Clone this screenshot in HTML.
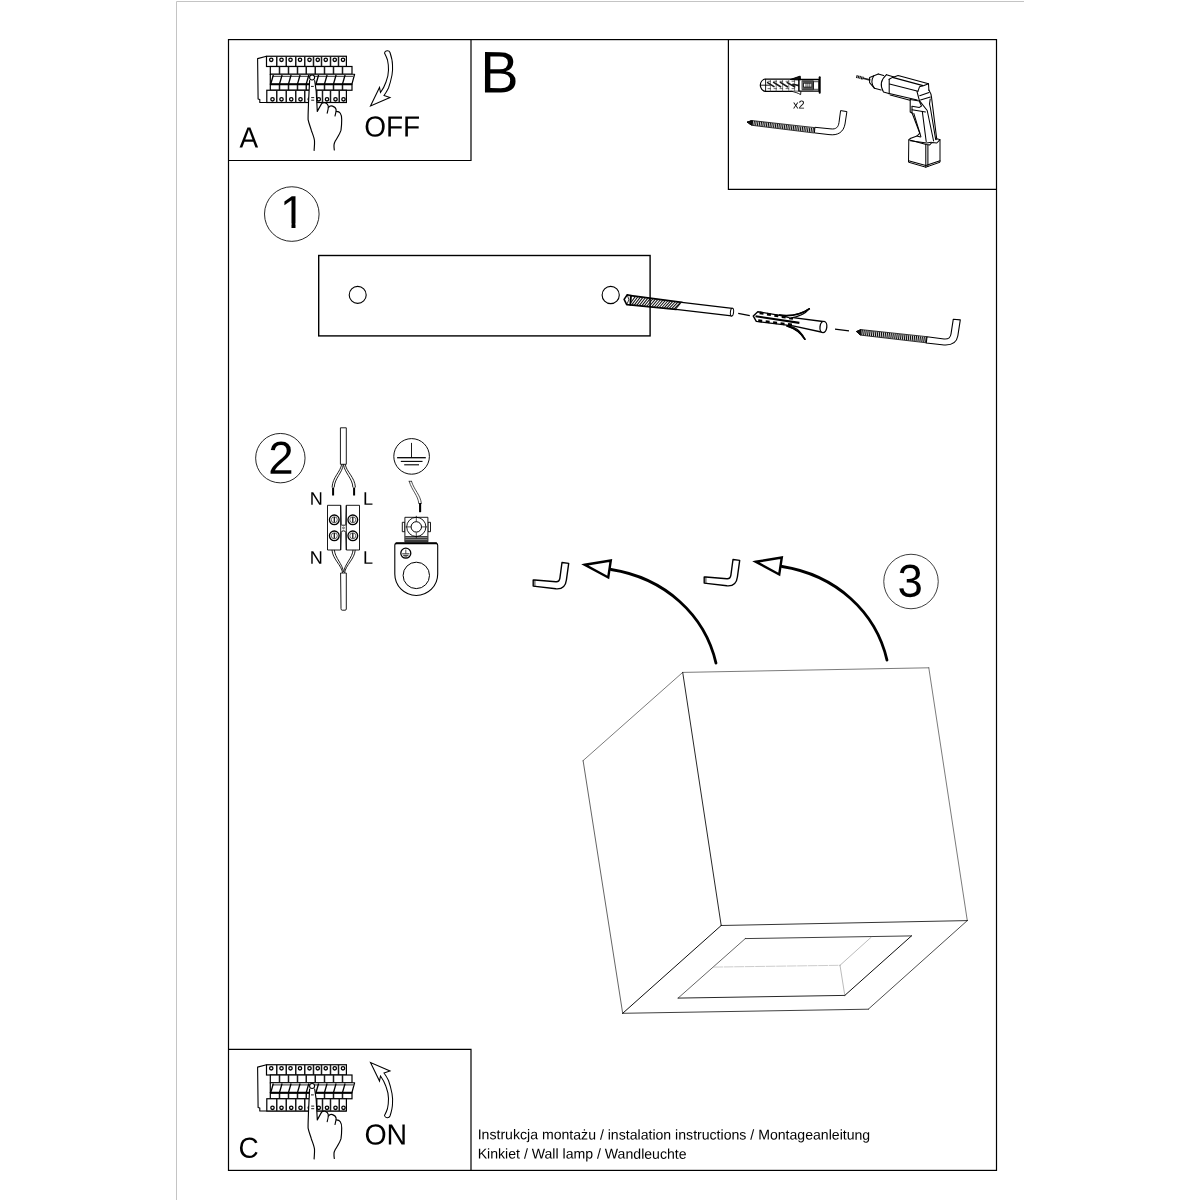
<!DOCTYPE html>
<html lang="pl">
<head>
<meta charset="utf-8">
<title>Instrukcja montażu</title>
<style>
html,body{margin:0;padding:0;background:#fff;}
body{width:1200px;height:1200px;overflow:hidden;}
svg{display:block;position:absolute;left:0;top:0;will-change:transform;}
text{font-family:"Liberation Sans",sans-serif;fill:#000;}
</style>
</head>
<body>
<svg width="1200" height="1200" viewBox="0 0 1200 1200">
<rect x="0" y="0" width="1200" height="1200" fill="#fff"/>

<path d="M176.5,1200 L176.5,1.5 L1024,1.5" fill="none" stroke="#c4c4c4" stroke-width="1"/>
<g fill="none" stroke="#000" stroke-width="1.2">
<rect x="228.5" y="39.6" width="768" height="1130.8"/>
<path d="M228.5,160.5 L471,160.5 L471,39.6"/>
<path d="M228.5,1049.3 L471,1049.3 L471,1170.4"/>
<path d="M728.4,39.6 L728.4,189.3 L996.5,189.3"/>
</g>
<g id="panelA">
<path d="M266.5,56.25 L257.6,58.6 L258.1,98.9 L259.8,99.6 L259.8,102.5 L346.5,102.5" fill="#fff" stroke="#000" stroke-width="1.1" stroke-linejoin="round"/>
<rect x="266.5" y="56.25" width="79.9" height="10.25" fill="#fff" stroke="#000" stroke-width="1.2"/>
<line x1="276.75" y1="56.5" x2="276.75" y2="66.5" stroke="#1a1a1a" stroke-width="1.5"/>
<line x1="286.25" y1="56.5" x2="286.25" y2="66.5" stroke="#1a1a1a" stroke-width="1.5"/>
<line x1="295.75" y1="56.5" x2="295.75" y2="66.5" stroke="#1a1a1a" stroke-width="1.5"/>
<line x1="304.75" y1="56.5" x2="304.75" y2="66.5" stroke="#1a1a1a" stroke-width="1.5"/>
<line x1="313.5" y1="56.5" x2="313.5" y2="66.5" stroke="#1a1a1a" stroke-width="1.5"/>
<line x1="321.5" y1="56.5" x2="321.5" y2="66.5" stroke="#1a1a1a" stroke-width="1.5"/>
<line x1="330.5" y1="56.5" x2="330.5" y2="66.5" stroke="#1a1a1a" stroke-width="1.5"/>
<line x1="338.5" y1="56.5" x2="338.5" y2="66.5" stroke="#1a1a1a" stroke-width="1.5"/>
<circle cx="271.25" cy="59.8" r="1.7" fill="#fff" stroke="#000" stroke-width="1.3"/>
<circle cx="281.5" cy="59.8" r="1.7" fill="#fff" stroke="#000" stroke-width="1.3"/>
<circle cx="290.5" cy="59.8" r="1.7" fill="#fff" stroke="#000" stroke-width="1.3"/>
<circle cx="300" cy="59.8" r="1.7" fill="#fff" stroke="#000" stroke-width="1.3"/>
<circle cx="309.5" cy="59.8" r="1.7" fill="#fff" stroke="#000" stroke-width="1.3"/>
<circle cx="317.75" cy="59.8" r="1.7" fill="#fff" stroke="#000" stroke-width="1.3"/>
<circle cx="325.75" cy="59.8" r="1.7" fill="#fff" stroke="#000" stroke-width="1.3"/>
<circle cx="334.75" cy="59.8" r="1.7" fill="#fff" stroke="#000" stroke-width="1.3"/>
<circle cx="343" cy="59.8" r="1.7" fill="#fff" stroke="#000" stroke-width="1.3"/>
<rect x="270.3" y="66.5" width="81.7" height="7.75" fill="#fff" stroke="#000" stroke-width="1.2"/>
<line x1="279.5" y1="66.5" x2="279.5" y2="74.2" stroke="#1a1a1a" stroke-width="1.5"/>
<line x1="288.5" y1="66.5" x2="288.5" y2="74.2" stroke="#1a1a1a" stroke-width="1.5"/>
<line x1="297.5" y1="66.5" x2="297.5" y2="74.2" stroke="#1a1a1a" stroke-width="1.5"/>
<line x1="306.25" y1="66.5" x2="306.25" y2="74.2" stroke="#1a1a1a" stroke-width="1.5"/>
<line x1="315.25" y1="66.5" x2="315.25" y2="74.2" stroke="#1a1a1a" stroke-width="1.5"/>
<line x1="324.5" y1="66.5" x2="324.5" y2="74.2" stroke="#1a1a1a" stroke-width="1.5"/>
<line x1="333.5" y1="66.5" x2="333.5" y2="74.2" stroke="#1a1a1a" stroke-width="1.5"/>
<line x1="342.5" y1="66.5" x2="342.5" y2="74.2" stroke="#1a1a1a" stroke-width="1.5"/>
<rect x="270.3" y="84.25" width="81.7" height="6" fill="#fff" stroke="#000" stroke-width="1.2"/>
<line x1="279.5" y1="84.3" x2="279.5" y2="90.2" stroke="#1a1a1a" stroke-width="1.5"/>
<line x1="288.5" y1="84.3" x2="288.5" y2="90.2" stroke="#1a1a1a" stroke-width="1.5"/>
<line x1="297.5" y1="84.3" x2="297.5" y2="90.2" stroke="#1a1a1a" stroke-width="1.5"/>
<line x1="306.25" y1="84.3" x2="306.25" y2="90.2" stroke="#1a1a1a" stroke-width="1.5"/>
<line x1="315.25" y1="84.3" x2="315.25" y2="90.2" stroke="#1a1a1a" stroke-width="1.5"/>
<line x1="324.5" y1="84.3" x2="324.5" y2="90.2" stroke="#1a1a1a" stroke-width="1.5"/>
<line x1="333.5" y1="84.3" x2="333.5" y2="90.2" stroke="#1a1a1a" stroke-width="1.5"/>
<line x1="342.5" y1="84.3" x2="342.5" y2="90.2" stroke="#1a1a1a" stroke-width="1.5"/>
<rect x="266.8" y="90.25" width="79.6" height="12.25" fill="#fff" stroke="#000" stroke-width="1.2"/>
<line x1="276.75" y1="90.3" x2="276.75" y2="102.4" stroke="#1a1a1a" stroke-width="1.5"/>
<line x1="286.25" y1="90.3" x2="286.25" y2="102.4" stroke="#1a1a1a" stroke-width="1.5"/>
<line x1="295.75" y1="90.3" x2="295.75" y2="102.4" stroke="#1a1a1a" stroke-width="1.5"/>
<line x1="304.75" y1="90.3" x2="304.75" y2="102.4" stroke="#1a1a1a" stroke-width="1.5"/>
<line x1="316.75" y1="90.3" x2="316.75" y2="102.4" stroke="#1a1a1a" stroke-width="1.5"/>
<line x1="322.5" y1="90.3" x2="322.5" y2="102.4" stroke="#1a1a1a" stroke-width="1.5"/>
<line x1="330.5" y1="90.3" x2="330.5" y2="102.4" stroke="#1a1a1a" stroke-width="1.5"/>
<line x1="339.25" y1="90.3" x2="339.25" y2="102.4" stroke="#1a1a1a" stroke-width="1.5"/>
<circle cx="272.5" cy="99.3" r="1.7" fill="#fff" stroke="#000" stroke-width="1.3"/>
<circle cx="281.5" cy="99.3" r="1.7" fill="#fff" stroke="#000" stroke-width="1.3"/>
<circle cx="291.25" cy="99.3" r="1.7" fill="#fff" stroke="#000" stroke-width="1.3"/>
<circle cx="300.5" cy="99.3" r="1.7" fill="#fff" stroke="#000" stroke-width="1.3"/>
<circle cx="309.8" cy="99.3" r="1.7" fill="#fff" stroke="#000" stroke-width="1.3"/>
<circle cx="318.75" cy="99.3" r="1.7" fill="#fff" stroke="#000" stroke-width="1.3"/>
<circle cx="327" cy="99.3" r="1.7" fill="#fff" stroke="#000" stroke-width="1.3"/>
<circle cx="335.5" cy="99.3" r="1.7" fill="#fff" stroke="#000" stroke-width="1.3"/>
<circle cx="343.5" cy="99.3" r="1.7" fill="#fff" stroke="#000" stroke-width="1.3"/>
<path d="M270.3,74.25 L354.6,74.25 L351.9,84.25 L270.3,84.25 Z" fill="#fff" stroke="#000" stroke-width="1.2" stroke-linejoin="round"/>
<line x1="272.3" y1="76.3" x2="354" y2="76.3" stroke="#555" stroke-width="1.3"/>
<line x1="270.3" y1="84.2" x2="352" y2="84.2" stroke="#000" stroke-width="1.9"/>
<line x1="270.75" y1="84" x2="273.35" y2="75" stroke="#000" stroke-width="1.3"/>
<line x1="279.5" y1="84" x2="282.1" y2="75" stroke="#000" stroke-width="1.3"/>
<line x1="288.5" y1="84" x2="291.1" y2="75" stroke="#000" stroke-width="1.3"/>
<line x1="297.5" y1="84" x2="300.1" y2="75" stroke="#000" stroke-width="1.3"/>
<line x1="306.25" y1="84" x2="308.85" y2="75" stroke="#000" stroke-width="1.3"/>
<line x1="316" y1="84" x2="318.6" y2="75" stroke="#000" stroke-width="1.3"/>
<line x1="324.5" y1="84" x2="327.1" y2="75" stroke="#000" stroke-width="1.3"/>
<line x1="333.5" y1="84" x2="336.1" y2="75" stroke="#000" stroke-width="1.3"/>
<line x1="342.5" y1="84" x2="345.1" y2="75" stroke="#000" stroke-width="1.3"/>
<path d="M309.5,79.5 L308.5,103.3 C308.3,110 308,115 308.1,119.6 C309,124 310.5,127 311.3,130.2 C313,135 314.3,138 314.5,140.8 C314.7,144 314.3,147 314.1,150.4 L334.3,150 C334.1,148.5 333.9,147 334,145 C334,143.5 334.5,142.5 335.4,140.8 C337,138 340,134 341,130.2 C341.5,127 341.7,123 341.7,119.6 C341.8,117 341.5,115 340.3,113.2 C339.5,112 338,111.5 336.4,111.4 L336.1,109.7 C335.8,108 334.5,106.8 332.5,106.1 C331,105.6 329.5,106 328.6,107.5 L328.3,106.1 C328,104.8 327,103.5 325.5,102.9 C324.5,102.5 323,102.5 321.6,103.6 L317.3,111.4 L316.2,91.2 L314.8,79.5 Z" fill="#fff" stroke="none"/>
<path d="M309.6,80.6 L308.5,103.3 C308.3,110 308,115 308.1,119.6 C309,124 310.5,127 311.3,130.2 C313,135 314.3,138 314.5,140.8 C314.7,144 314.3,147 314.1,150.4" fill="none" stroke="#000" stroke-width="1.15" stroke-linecap="round" stroke-linejoin="round"/>
<path d="M314.7,80.6 L316.2,91.2 L317.3,111.4 L321.6,103.6 C323,102.5 324.5,102.5 325.5,102.9 C327,103.5 328,104.8 328.3,106.1 C328.5,108 327.8,111 327.2,113.2" fill="none" stroke="#000" stroke-width="1.15" stroke-linecap="round" stroke-linejoin="round"/>
<path d="M328.6,107.5 C329.5,106 331,105.6 332.5,106.1 C334.5,106.8 335.8,108 336.1,109.7 C336.3,111.5 335.5,114 335,116" fill="none" stroke="#000" stroke-width="1.15" stroke-linecap="round" stroke-linejoin="round"/>
<path d="M336.4,111.4 C338,111.5 339.5,112 340.3,113.2 C341.5,115 341.8,117 341.7,119.6 C341.7,123 341.5,127 341,130.2 C340,134 337,138 335.4,140.8 C334.5,142.5 334,143.5 334,145 C333.9,147 334.1,148.5 334.3,150" fill="none" stroke="#000" stroke-width="1.15" stroke-linecap="round" stroke-linejoin="round"/>
<circle cx="312.1" cy="77.5" r="2.5" fill="#fff" stroke="#000" stroke-width="1.1"/>
<path d="M311,86.4 L313.8,86.4 M311.2,97.6 L314.2,97.6 M311.2,100.2 L314.2,100.2" fill="none" stroke="#000" stroke-width="0.9"/>
<path d="M384.5,53 C385,50.3 389,50 390,52.5 C391.5,57 392.5,61 392.5,65 C392.8,69 392.5,72 392,75 C391,80 390,84 388.5,88 C387,91 385.5,93.5 384,95.5 L390,97.5 L370.5,106 L379.5,87.5 L380.5,92.5 C383,89 385,85 386,82 C387.5,78 388.5,74 388.5,70 C388.5,66 388.2,63 387.5,60 C386.8,57.5 385.5,55 384.5,53 Z" fill="#fff" stroke="#000" stroke-width="1.05" stroke-linejoin="miter"/>
<text transform="translate(239.5 147.5) rotate(0.05) scale(1 1.04)" font-size="28">A</text>
<text transform="translate(364.2 136.5) rotate(0.05) scale(1 1.04)" font-size="28">OFF</text>
</g>
<text transform="translate(480.2 92.5) rotate(0.05) scale(1 1.021)" font-size="57.5">B</text>
<g id="panelC">
<g transform="translate(0,1008.5)">
<path d="M266.5,56.25 L257.6,58.6 L258.1,98.9 L259.8,99.6 L259.8,102.5 L346.5,102.5" fill="#fff" stroke="#000" stroke-width="1.1" stroke-linejoin="round"/>
<rect x="266.5" y="56.25" width="79.9" height="10.25" fill="#fff" stroke="#000" stroke-width="1.2"/>
<line x1="276.75" y1="56.5" x2="276.75" y2="66.5" stroke="#1a1a1a" stroke-width="1.5"/>
<line x1="286.25" y1="56.5" x2="286.25" y2="66.5" stroke="#1a1a1a" stroke-width="1.5"/>
<line x1="295.75" y1="56.5" x2="295.75" y2="66.5" stroke="#1a1a1a" stroke-width="1.5"/>
<line x1="304.75" y1="56.5" x2="304.75" y2="66.5" stroke="#1a1a1a" stroke-width="1.5"/>
<line x1="313.5" y1="56.5" x2="313.5" y2="66.5" stroke="#1a1a1a" stroke-width="1.5"/>
<line x1="321.5" y1="56.5" x2="321.5" y2="66.5" stroke="#1a1a1a" stroke-width="1.5"/>
<line x1="330.5" y1="56.5" x2="330.5" y2="66.5" stroke="#1a1a1a" stroke-width="1.5"/>
<line x1="338.5" y1="56.5" x2="338.5" y2="66.5" stroke="#1a1a1a" stroke-width="1.5"/>
<circle cx="271.25" cy="59.8" r="1.7" fill="#fff" stroke="#000" stroke-width="1.3"/>
<circle cx="281.5" cy="59.8" r="1.7" fill="#fff" stroke="#000" stroke-width="1.3"/>
<circle cx="290.5" cy="59.8" r="1.7" fill="#fff" stroke="#000" stroke-width="1.3"/>
<circle cx="300" cy="59.8" r="1.7" fill="#fff" stroke="#000" stroke-width="1.3"/>
<circle cx="309.5" cy="59.8" r="1.7" fill="#fff" stroke="#000" stroke-width="1.3"/>
<circle cx="317.75" cy="59.8" r="1.7" fill="#fff" stroke="#000" stroke-width="1.3"/>
<circle cx="325.75" cy="59.8" r="1.7" fill="#fff" stroke="#000" stroke-width="1.3"/>
<circle cx="334.75" cy="59.8" r="1.7" fill="#fff" stroke="#000" stroke-width="1.3"/>
<circle cx="343" cy="59.8" r="1.7" fill="#fff" stroke="#000" stroke-width="1.3"/>
<rect x="270.3" y="66.5" width="81.7" height="7.75" fill="#fff" stroke="#000" stroke-width="1.2"/>
<line x1="279.5" y1="66.5" x2="279.5" y2="74.2" stroke="#1a1a1a" stroke-width="1.5"/>
<line x1="288.5" y1="66.5" x2="288.5" y2="74.2" stroke="#1a1a1a" stroke-width="1.5"/>
<line x1="297.5" y1="66.5" x2="297.5" y2="74.2" stroke="#1a1a1a" stroke-width="1.5"/>
<line x1="306.25" y1="66.5" x2="306.25" y2="74.2" stroke="#1a1a1a" stroke-width="1.5"/>
<line x1="315.25" y1="66.5" x2="315.25" y2="74.2" stroke="#1a1a1a" stroke-width="1.5"/>
<line x1="324.5" y1="66.5" x2="324.5" y2="74.2" stroke="#1a1a1a" stroke-width="1.5"/>
<line x1="333.5" y1="66.5" x2="333.5" y2="74.2" stroke="#1a1a1a" stroke-width="1.5"/>
<line x1="342.5" y1="66.5" x2="342.5" y2="74.2" stroke="#1a1a1a" stroke-width="1.5"/>
<rect x="270.3" y="84.25" width="81.7" height="6" fill="#fff" stroke="#000" stroke-width="1.2"/>
<line x1="279.5" y1="84.3" x2="279.5" y2="90.2" stroke="#1a1a1a" stroke-width="1.5"/>
<line x1="288.5" y1="84.3" x2="288.5" y2="90.2" stroke="#1a1a1a" stroke-width="1.5"/>
<line x1="297.5" y1="84.3" x2="297.5" y2="90.2" stroke="#1a1a1a" stroke-width="1.5"/>
<line x1="306.25" y1="84.3" x2="306.25" y2="90.2" stroke="#1a1a1a" stroke-width="1.5"/>
<line x1="315.25" y1="84.3" x2="315.25" y2="90.2" stroke="#1a1a1a" stroke-width="1.5"/>
<line x1="324.5" y1="84.3" x2="324.5" y2="90.2" stroke="#1a1a1a" stroke-width="1.5"/>
<line x1="333.5" y1="84.3" x2="333.5" y2="90.2" stroke="#1a1a1a" stroke-width="1.5"/>
<line x1="342.5" y1="84.3" x2="342.5" y2="90.2" stroke="#1a1a1a" stroke-width="1.5"/>
<rect x="266.8" y="90.25" width="79.6" height="12.25" fill="#fff" stroke="#000" stroke-width="1.2"/>
<line x1="276.75" y1="90.3" x2="276.75" y2="102.4" stroke="#1a1a1a" stroke-width="1.5"/>
<line x1="286.25" y1="90.3" x2="286.25" y2="102.4" stroke="#1a1a1a" stroke-width="1.5"/>
<line x1="295.75" y1="90.3" x2="295.75" y2="102.4" stroke="#1a1a1a" stroke-width="1.5"/>
<line x1="304.75" y1="90.3" x2="304.75" y2="102.4" stroke="#1a1a1a" stroke-width="1.5"/>
<line x1="316.75" y1="90.3" x2="316.75" y2="102.4" stroke="#1a1a1a" stroke-width="1.5"/>
<line x1="322.5" y1="90.3" x2="322.5" y2="102.4" stroke="#1a1a1a" stroke-width="1.5"/>
<line x1="330.5" y1="90.3" x2="330.5" y2="102.4" stroke="#1a1a1a" stroke-width="1.5"/>
<line x1="339.25" y1="90.3" x2="339.25" y2="102.4" stroke="#1a1a1a" stroke-width="1.5"/>
<circle cx="272.5" cy="99.3" r="1.7" fill="#fff" stroke="#000" stroke-width="1.3"/>
<circle cx="281.5" cy="99.3" r="1.7" fill="#fff" stroke="#000" stroke-width="1.3"/>
<circle cx="291.25" cy="99.3" r="1.7" fill="#fff" stroke="#000" stroke-width="1.3"/>
<circle cx="300.5" cy="99.3" r="1.7" fill="#fff" stroke="#000" stroke-width="1.3"/>
<circle cx="309.8" cy="99.3" r="1.7" fill="#fff" stroke="#000" stroke-width="1.3"/>
<circle cx="318.75" cy="99.3" r="1.7" fill="#fff" stroke="#000" stroke-width="1.3"/>
<circle cx="327" cy="99.3" r="1.7" fill="#fff" stroke="#000" stroke-width="1.3"/>
<circle cx="335.5" cy="99.3" r="1.7" fill="#fff" stroke="#000" stroke-width="1.3"/>
<circle cx="343.5" cy="99.3" r="1.7" fill="#fff" stroke="#000" stroke-width="1.3"/>
<path d="M270.3,74.25 L354.6,74.25 L351.9,84.25 L270.3,84.25 Z" fill="#fff" stroke="#000" stroke-width="1.2" stroke-linejoin="round"/>
<line x1="272.3" y1="76.3" x2="354" y2="76.3" stroke="#555" stroke-width="1.3"/>
<line x1="270.3" y1="84.2" x2="352" y2="84.2" stroke="#000" stroke-width="1.9"/>
<line x1="270.75" y1="84" x2="273.35" y2="75" stroke="#000" stroke-width="1.3"/>
<line x1="279.5" y1="84" x2="282.1" y2="75" stroke="#000" stroke-width="1.3"/>
<line x1="288.5" y1="84" x2="291.1" y2="75" stroke="#000" stroke-width="1.3"/>
<line x1="297.5" y1="84" x2="300.1" y2="75" stroke="#000" stroke-width="1.3"/>
<line x1="306.25" y1="84" x2="308.85" y2="75" stroke="#000" stroke-width="1.3"/>
<line x1="316" y1="84" x2="318.6" y2="75" stroke="#000" stroke-width="1.3"/>
<line x1="324.5" y1="84" x2="327.1" y2="75" stroke="#000" stroke-width="1.3"/>
<line x1="333.5" y1="84" x2="336.1" y2="75" stroke="#000" stroke-width="1.3"/>
<line x1="342.5" y1="84" x2="345.1" y2="75" stroke="#000" stroke-width="1.3"/>
<path d="M309.5,79.5 L308.5,103.3 C308.3,110 308,115 308.1,119.6 C309,124 310.5,127 311.3,130.2 C313,135 314.3,138 314.5,140.8 C314.7,144 314.3,147 314.1,150.4 L334.3,150 C334.1,148.5 333.9,147 334,145 C334,143.5 334.5,142.5 335.4,140.8 C337,138 340,134 341,130.2 C341.5,127 341.7,123 341.7,119.6 C341.8,117 341.5,115 340.3,113.2 C339.5,112 338,111.5 336.4,111.4 L336.1,109.7 C335.8,108 334.5,106.8 332.5,106.1 C331,105.6 329.5,106 328.6,107.5 L328.3,106.1 C328,104.8 327,103.5 325.5,102.9 C324.5,102.5 323,102.5 321.6,103.6 L317.3,111.4 L316.2,91.2 L314.8,79.5 Z" fill="#fff" stroke="none"/>
<path d="M309.6,80.6 L308.5,103.3 C308.3,110 308,115 308.1,119.6 C309,124 310.5,127 311.3,130.2 C313,135 314.3,138 314.5,140.8 C314.7,144 314.3,147 314.1,150.4" fill="none" stroke="#000" stroke-width="1.15" stroke-linecap="round" stroke-linejoin="round"/>
<path d="M314.7,80.6 L316.2,91.2 L317.3,111.4 L321.6,103.6 C323,102.5 324.5,102.5 325.5,102.9 C327,103.5 328,104.8 328.3,106.1 C328.5,108 327.8,111 327.2,113.2" fill="none" stroke="#000" stroke-width="1.15" stroke-linecap="round" stroke-linejoin="round"/>
<path d="M328.6,107.5 C329.5,106 331,105.6 332.5,106.1 C334.5,106.8 335.8,108 336.1,109.7 C336.3,111.5 335.5,114 335,116" fill="none" stroke="#000" stroke-width="1.15" stroke-linecap="round" stroke-linejoin="round"/>
<path d="M336.4,111.4 C338,111.5 339.5,112 340.3,113.2 C341.5,115 341.8,117 341.7,119.6 C341.7,123 341.5,127 341,130.2 C340,134 337,138 335.4,140.8 C334.5,142.5 334,143.5 334,145 C333.9,147 334.1,148.5 334.3,150" fill="none" stroke="#000" stroke-width="1.15" stroke-linecap="round" stroke-linejoin="round"/>
<circle cx="312.1" cy="77.5" r="2.5" fill="#fff" stroke="#000" stroke-width="1.1"/>
<path d="M311,86.4 L313.8,86.4 M311.2,97.6 L314.2,97.6 M311.2,100.2 L314.2,100.2" fill="none" stroke="#000" stroke-width="0.9"/>
</g>
<path d="M384.5,53 C385,50.3 389,50 390,52.5 C391.5,57 392.5,61 392.5,65 C392.8,69 392.5,72 392,75 C391,80 390,84 388.5,88 C387,91 385.5,93.5 384,95.5 L390,97.5 L370.5,106 L379.5,87.5 L380.5,92.5 C383,89 385,85 386,82 C387.5,78 388.5,74 388.5,70 C388.5,66 388.2,63 387.5,60 C386.8,57.5 385.5,55 384.5,53 Z" fill="#fff" stroke="#000" stroke-width="1.05" transform="translate(0,1168.5) scale(1,-1)"/>
<text transform="translate(238.4 1157.7) rotate(0.05) scale(1 1.04)" font-size="28">C</text>
<text transform="translate(364.4 1144.5) rotate(0.05) scale(1 1.022)" font-size="28.5">ON</text>
</g>
<g id="tools">
<!-- wall plug -->
<g stroke-linejoin="round" stroke-linecap="round">
<path d="M765,79 C762.3,79.6 760.3,82.4 760.3,85.2 C760.3,88 762.3,90.8 765,91.3 L799,91.3 L799,79.2 Z" fill="#fff" stroke="#000" stroke-width="1.2"/>
<path d="M760.5,85.2 L770,85.2 M765.6,79.3 L765.6,91.1" fill="none" stroke="#000" stroke-width="0.9"/>
<path d="M770.4,79.4 L770.4,91 M776.2,79.4 L776.2,91 M782.6,79.4 L782.6,91 M788.8,79.4 L788.8,91 M794.6,79.4 L794.6,91" fill="none" stroke="#444" stroke-width="0.7"/>
<path d="M767.6,82.6 L774,86.6 M773.6,82.4 L780.6,86.8 M780.4,82.4 L787.4,86.8 M787.2,82.6 L794.6,86.8 M793,84.2 L799,85.6" fill="none" stroke="#1a1a1a" stroke-width="1.6"/>
<path d="M768,88.6 L798,88.6 M768,81.3 L798,81.3" fill="none" stroke="#333" stroke-width="0.7" stroke-dasharray="2.6 3.4"/>
<path d="M790.6,79.4 L800.2,76.1 L800.4,79.6 Z" fill="#111" stroke="#000" stroke-width="1"/>
<path d="M791,91.2 C795,92 798,93 800.6,94.6 L800.9,91.5" fill="#fff" stroke="#000" stroke-width="0.9"/>
<rect x="799" y="79.5" width="20.3" height="11.6" fill="#fff" stroke="#000" stroke-width="1.3"/>
<rect x="802.4" y="80.8" width="11" height="9" fill="#555" stroke="#222" stroke-width="0.8"/>
<path d="M818.6,81.7 L819.4,79.8 M818.6,89.3 L819.4,91" stroke="#000" stroke-width="0.6" fill="none"/>
<rect x="803.9" y="83.3" width="7.8" height="3.7" fill="#fff" stroke="#000" stroke-width="0.6"/>
<path d="M806,83.6 L806,86.8 M807.9,83.6 L807.9,86.8 M809.8,83.6 L809.8,86.8" stroke="#000" stroke-width="0.7" fill="none"/>
<rect x="813.9" y="81.7" width="4.7" height="7.6" fill="#fff" stroke="#000" stroke-width="0.7"/>
<line x1="819.7" y1="77.3" x2="819.7" y2="92.8" stroke="#000" stroke-width="2"/>
</g>
<text transform="translate(793.1 108.5) rotate(0.05) scale(1 1.04)" font-size="11">x2</text>
<!-- screw hook -->
<g stroke-linejoin="round">
<path d="M747,122.1 L752.2,120.6 L814.6,127.6 L814.2,133 L752,125.3 Z" fill="#fff" stroke="#000" stroke-width="0.8"/>
<line x1="750" y1="122.6" x2="814.4" y2="130.4" stroke="#111" stroke-width="4.6" stroke-dasharray="1.1 0.7"/>
<path d="M747,122.1 L752.2,120.6 L752,125.3 Z" fill="#111" stroke="#000" stroke-width="0.8"/>
<path d="M814.4,132.9 L829,134.6 C838,135.8 843.6,132 845,124 L846.9,111.6 L840.6,110.6 L839,122.5 C838.3,127.4 836,129.4 831,128.9 L814.9,127.3 Z" fill="#fff" stroke="#000" stroke-width="1"/>
</g>
<!-- drill -->
<g fill="none" stroke="#000" stroke-width="1.05" stroke-linejoin="round" stroke-linecap="round">
<line x1="856.3" y1="76.4" x2="863.4" y2="78.3" stroke-width="3" stroke-dasharray="1.2 0.45" stroke="#111" stroke-linecap="butt"/>
<line x1="863.2" y1="78.3" x2="869.6" y2="79.9" stroke-width="1.7" stroke="#222"/>
<path d="M878.3,74 L869.6,77.4 L869.6,82.6 L874.5,88.3 L881,90.1"/>
<path d="M873.8,75.8 Q869.6,82.3 874.5,88.3"/>
<path d="M878.3,74 L883.6,75.5"/>
<path d="M886.5,74.7 Q877.8,82.5 883.5,92 L888.8,93.5"/>
<path d="M886.5,74.7 L894,77"/>
<path d="M889.2,79.3 L889.2,93.9"/>
<path d="M889.2,79.3 L892.5,77.4 L898.1,75.5 L928.5,83.8 L928.9,90.5"/>
<path d="M892.5,77.4 L923,85.6" stroke-width="1.1"/>
<path d="M889.5,84.1 L918,91.2"/>
<path d="M889.3,93.5 L917.2,99.9"/>
<path d="M890.3,95.1 L910,100.2"/>
<path d="M918,91.2 L919.5,86.8 L924,85.6 L928.5,83.8"/>
<path d="M917,91.5 L919.4,100.6"/>
<path d="M919.7,95.7 L929,92.5 M920.5,99.9 L930.4,97.1"/>
<path d="M928.9,90 Q931.4,94 931.5,97.1 L936.8,139.6"/>
<path d="M930.2,99 Q928.8,104 930.4,108 L935.7,139.6"/>
<path d="M910.2,99.6 L910.2,112 L912,113 L912,106.4"/>
<path d="M910.2,99.6 L919.2,101.1 L921.5,106 L919.4,107.4 L912,106.2"/>
<path d="M912,109.8 L925.5,112"/>
<path d="M919.4,100.6 L927.2,110.5 L933.6,141"/>
<path d="M912,112.8 L919.8,133.2 L917,136 L910.2,138.6"/>
<path d="M913.8,113.4 L920.9,136.7"/>
<path d="M922.3,111.4 L926.2,141.5"/>
<!-- battery -->
<path d="M910.2,138.6 L908.8,139.7 L908.5,162.2 L925.8,167.2 L940,162.2 L940,139.6 L937.4,138.9" stroke-width="1"/>
<path d="M908.8,139.7 L926.2,144.5 L929.7,144.9 L932,142.5 L936.8,143 L940,139.6"/>
<path d="M910.4,140.7 L926.6,143 L931.5,142.3"/>
<path d="M908.5,160.7 L925.8,165.4 L940,160.7"/>
<path d="M925.8,144.5 L925.8,167.2 M927.9,145.1 L927.9,166.4"/>
<path d="M917,136 L920.5,136.9"/>
</g>
</g>

<g id="step1">
<circle cx="291.8" cy="214.05" r="27.3" fill="none" stroke="#000" stroke-width="0.85"/>
<text transform="translate(280 228) rotate(0.05) scale(1 1.01)" font-size="45.6">1</text>
<path d="M282.5,223.6 H291.48 V229.2 H282.5 Z M295.5,223.6 H304.2 V229.2 H295.5 Z" fill="#fff" stroke="none"/>
<g stroke-linejoin="round" stroke-linecap="round">
<path d="M630.8,295.6 L681.8,302.4 L676,309.3 L630.2,304.9 Z" fill="#fff" stroke="#000" stroke-width="1.8"/>
<path d="M630.4,303.24 L635.4,296.41 M631.7,304.84 L637.9,296.75 M634.2,305.08 L640.4,297.08 M636.7,305.32 L642.9,297.41 M639.2,305.56 L645.4,297.75 M641.7,305.8 L647.9,298.08 M644.2,306.04 L650.4,298.41 M646.7,306.29 L652.9,298.75 M649.2,306.53 L655.4,299.08 M651.7,306.77 L657.9,299.41 M654.2,307.01 L660.4,299.75 M656.7,307.25 L662.9,300.08 M659.2,307.49 L665.4,300.41 M661.7,307.73 L667.9,300.75 M664.2,307.97 L670.4,301.08 M666.7,308.21 L672.9,301.41 M669.2,308.45 L675.4,301.75 M671.7,308.69 L677.9,302.08 M674.2,308.93 L680.4,302.41" fill="none" stroke="#111" stroke-width="1.05"/>
<path d="M624.1,299.4 L627.3,294.8 L630.8,295.6 L630.2,304.9 L626.7,304.6 Z" fill="#fff" stroke="#000" stroke-width="1.6"/>
<path d="M627.3,294.8 L628.9,299.8 L626.7,304.6" fill="none" stroke="#000" stroke-width="0.8"/>
<path d="M681.8,302.4 L732.3,308.3 L731.6,315.9 L676,309.3" fill="#fff" stroke="#000" stroke-width="1.3"/>
<ellipse cx="732" cy="312.1" rx="1.6" ry="3.9" fill="#fff" stroke="#000" stroke-width="1" transform="rotate(6 732 312.1)"/>
</g>
<rect x="318.7" y="255.5" width="331.4" height="80.4" fill="none" stroke="#000" stroke-width="1.4"/>
<circle cx="357.7" cy="294.9" r="8.5" fill="none" stroke="#000" stroke-width="1.1"/>
<circle cx="610.7" cy="295" r="8.6" fill="none" stroke="#000" stroke-width="1.1"/>
<path d="M738.2,313.3 L749.8,315.6 M835,329.1 L849,330.8" fill="none" stroke="#000" stroke-width="1.3"/>
<g stroke-linejoin="round" stroke-linecap="round">
<path d="M753.3,316.1 L757.8,311.7 L793,317.6 L823,321.5 L822.3,332.3 L793,325.9 L756.3,321.4 Z" fill="#fff" stroke="#000" stroke-width="1.4"/>
<path d="M759.6,312.9 L793,318.5" fill="none" stroke="#000" stroke-width="2.6" stroke-dasharray="4 3.5" stroke-linecap="butt"/>
<path d="M758.2,320.6 L793,325" fill="none" stroke="#000" stroke-width="2.6" stroke-dasharray="4 3.5" stroke-linecap="butt"/>
<path d="M755.5,316.2 L799.4,322.9" fill="none" stroke="#000" stroke-width="2.1" stroke-linecap="butt"/>
<ellipse cx="823.4" cy="327" rx="3.4" ry="5.6" fill="#fff" stroke="#000" stroke-width="1.3" transform="rotate(7 823.4 327)"/>
<path d="M779.5,315 Q797,317.5 809.5,308.6 Q803,316.5 790,318 Z" fill="#fff" stroke="#000" stroke-width="1.2"/>
<path d="M779.5,315.2 Q797,317.3 809.3,308.9" fill="none" stroke="#000" stroke-width="1.7"/>
<path d="M787,325.9 Q799,329.5 805,339.4 Q801,330.5 793,327 Z" fill="#fff" stroke="#000" stroke-width="1.2"/>
<path d="M787,326 Q799,329.6 804.9,339.2" fill="none" stroke="#000" stroke-width="1.7"/>
</g>
<g stroke-linejoin="round">
<path d="M856.4,331.5 L861,329.6 L927,336.7 L926.3,342.8 L860.5,335.1 Z" fill="#fff" stroke="#000" stroke-width="0.8"/>
<line x1="859.5" y1="332.2" x2="926.7" y2="339.8" stroke="#111" stroke-width="5.4" stroke-dasharray="1.2 0.75"/>
<path d="M856.4,331.5 L861,329.6 L860.5,335.1 Z" fill="#111" stroke="#000" stroke-width="0.8"/>
<path d="M926.3,343 L942,344.7 C951,345.8 956.6,343 957.8,336 L960.3,319.9 L953.3,319.2 L951,334 C950.3,338.3 948.5,339.4 944,339 L927,336.7 Z" fill="#fff" stroke="#000" stroke-width="1.1"/>
</g>
</g>
<g id="step2">
<circle cx="280.35" cy="458.15" r="24.7" fill="none" stroke="#000" stroke-width="0.85"/>
<text transform="translate(268.2 473.7) rotate(0.05) scale(1 1.01)" font-size="45.6">2</text>
<!-- top cable -->
<g fill="none" stroke="#111" stroke-width="0.95" stroke-linecap="round" stroke-linejoin="round">
<rect x="340.8" y="427.8" width="5.5" height="36.5" fill="#fff"/>
<path d="M341.6,464.6 C340.5,472 332.6,477 332.1,487"/>
<path d="M343.3,464.6 C342.4,473 334.6,478 334.2,487"/>
<path d="M343.5,464.6 C344.6,473 352.4,478 352.9,487"/>
<path d="M345.3,464.6 C346.4,472 354.8,477 355.4,487"/>
<path d="M333.1,487.4 L333.1,495.4 M354.1,487.4 L354.1,495.4" stroke="#000" stroke-width="2" stroke-linecap="butt"/>
</g>
<text transform="translate(309.7 504.8) rotate(0.05) scale(1 1.0)" font-size="18.1">N</text>
<text transform="translate(362.9 504.8) rotate(0.05) scale(1 1.0)" font-size="18.1">L</text>
<text transform="translate(309.7 563.8) rotate(0.05) scale(1 1.0)" font-size="18.1">N</text>
<text transform="translate(362.9 563.8) rotate(0.05) scale(1 1.0)" font-size="18.1">L</text>
<!-- terminal block -->
<g fill="none" stroke="#000" stroke-width="0.9" stroke-linejoin="round">
<rect x="327.5" y="505.3" width="13.2" height="44.7" fill="#fff"/>
<rect x="346.3" y="505.3" width="13.2" height="44.7" fill="#fff"/>
<path d="M340.7,505.3 L341.2,524.6 Q341.2,525.2 341.8,525.2 L345.2,525.2 Q345.8,525.2 345.8,524.6 L346.3,505.3"/>
<path d="M340.7,550 L341.2,532.6 Q341.4,530.8 343.5,530.8 Q345.6,530.8 345.8,532.6 L346.3,550"/>
<circle cx="343.5" cy="527.9" r="0.9" stroke-width="0.6"/>
<g stroke-width="1.35">
<circle cx="334.3" cy="519.8" r="4.85"/><circle cx="352.8" cy="519.8" r="4.85"/>
<circle cx="334.3" cy="535.8" r="4.85"/><circle cx="352.8" cy="535.8" r="4.85"/>
</g>
<g stroke-width="0.6">
<circle cx="334.3" cy="519.8" r="3"/><circle cx="352.8" cy="519.8" r="3"/>
<circle cx="334.3" cy="535.8" r="3"/><circle cx="352.8" cy="535.8" r="3"/>
</g>
<path d="M334.3,517 L334.3,522.6 M352.8,517 L352.8,522.6 M334.3,533 L334.3,538.6 M352.8,533 L352.8,538.6" stroke-width="1.2"/>
</g>
<!-- bottom cable -->
<g fill="none" stroke="#111" stroke-width="0.95" stroke-linecap="round" stroke-linejoin="round">
<path d="M332,550.3 C332.5,559 341.5,565 342.6,572.6"/>
<path d="M334.4,550.3 C335,558 342.6,564 343.4,571.6"/>
<path d="M353,550.3 C352.5,558 344.6,564 343.8,571.6"/>
<path d="M355.2,550.3 C354.8,559 345.6,565 344.6,572.6"/>
<path d="M341,573 L346.3,573 L346.3,609 Q346.3,610.2 345.1,610.2 L342.2,610.2 Q341,610.2 341,609 Z" fill="#fff"/>
</g>
<!-- earth symbol -->
<g fill="none" stroke="#000" stroke-linecap="butt">
<circle cx="411.6" cy="456.4" r="17.8" stroke-width="0.95"/>
<path d="M411.5,442.9 L411.5,457.7" stroke-width="0.9"/>
<path d="M397.1,457.7 L425.8,457.7" stroke-width="1.3"/>
<path d="M400.8,461.4 L422.5,461.4" stroke-width="1.1"/>
<path d="M404.2,464.8 L419,464.8" stroke-width="1.1"/>
</g>
<g fill="none" stroke="#222" stroke-width="0.8" stroke-linecap="round">
<path d="M409.2,481.3 C412,491 418,495 418.8,503.5"/>
<path d="M411.5,481.3 C414,490 420.6,495 421.4,503.5"/>
<path d="M409.2,481.3 L411.5,481.3"/>
<path d="M420.1,503 L420.1,512.2" stroke="#000" stroke-width="2.1" stroke-linecap="butt"/>
</g>
<!-- ring terminal -->
<g fill="none" stroke="#000" stroke-width="0.9" stroke-linejoin="round">
<rect x="402.3" y="522.3" width="2.6" height="9.4" fill="#fff"/>
<rect x="427.9" y="522.3" width="2.6" height="9.4" fill="#fff"/>
<rect x="404.9" y="517.3" width="23" height="24.6" fill="#fff"/>
<circle cx="416.3" cy="526.9" r="9.6"/>
<circle cx="416.3" cy="526.9" r="5.2" stroke-width="1"/>
<path d="M416.3,515.8 L416.3,521.7 M416.3,532.6 L416.3,538.3 M405.6,526.9 L411,526.9 M421.6,526.9 L427.2,526.9" stroke-width="0.7"/>
<path d="M405.2,536.9 L427.6,536.9 M405.2,538.8 L427.6,538.8 M405.2,540.8 L427.6,540.8" stroke-width="1.2"/>
<path d="M396.8,543.4 L435.8,543.4 Q437.7,543.4 437.7,545.3 L437.7,574 A21.45,21.45 0 0 1 394.8,574 L394.8,545.3 Q394.8,543.4 396.8,543.4 Z" fill="#fff" stroke-width="1.1"/>
<path d="M395.6,543.3 L436.9,543.3" stroke-width="2"/>
<circle cx="416.3" cy="575.4" r="13.2" stroke-width="1"/>
<circle cx="405.8" cy="553.2" r="5" stroke-width="1.3"/>
<path d="M405.8,549.6 L405.8,553.6" stroke-width="0.7"/>
<path d="M402.2,553.8 L409.4,553.8 M403.2,555.4 L408.4,555.4 M404.3,556.9 L407.3,556.9" stroke-width="0.8"/>
</g>
</g>

<g id="step3">
<circle cx="911.0" cy="581.5" r="27.25" fill="none" stroke="#000" stroke-width="0.75"/>
<text transform="translate(897.5 596.7) rotate(0.05) scale(1 1.01)" font-size="45.6">3</text>
<g transform="translate(0,0)">
<path d="M716,663.1 C705,615 665,578 611,569.5" fill="none" stroke="#000" stroke-width="2.8" stroke-linecap="round"/>
<path d="M584.85,564.8 L610.8,560.55 L608.25,577.5 Z" fill="#fff" stroke="#000" stroke-width="2.4" stroke-linejoin="miter"/>
<path d="M533.2,580 L533.2,586.1 L555.9,588.8 C561.5,589.3 565.6,586.5 566.4,580 L568.7,563.4 L562,562.5 L559.9,578.2 C559.5,581 558.3,582 555.9,581.8 L534.9,580 Z" fill="#fff" stroke="#000" stroke-width="1.4" stroke-linejoin="round"/>
<path d="M534.9,580 L534.9,586.3" fill="none" stroke="#000" stroke-width="0.8"/>
</g>
<g transform="translate(171,-3)">
<path d="M716,663.1 C705,615 665,578 611,569.5" fill="none" stroke="#000" stroke-width="2.8" stroke-linecap="round"/>
<path d="M584.85,564.8 L610.8,560.55 L608.25,577.5 Z" fill="#fff" stroke="#000" stroke-width="2.4" stroke-linejoin="miter"/>
<path d="M533.2,580 L533.2,586.1 L555.9,588.8 C561.5,589.3 565.6,586.5 566.4,580 L568.7,563.4 L562,562.5 L559.9,578.2 C559.5,581 558.3,582 555.9,581.8 L534.9,580 Z" fill="#fff" stroke="#000" stroke-width="1.4" stroke-linejoin="round"/>
<path d="M534.9,580 L534.9,586.3" fill="none" stroke="#000" stroke-width="0.8"/>
</g>
<line x1="682.7" y1="672.4" x2="928.8" y2="667.8" stroke="#222" stroke-width="0.6" stroke-linecap="round"/>
<line x1="928.8" y1="667.8" x2="967.3" y2="920.6" stroke="#222" stroke-width="0.6" stroke-linecap="round"/>
<line x1="967.3" y1="920.6" x2="721.2" y2="925.5" stroke="#000" stroke-width="0.8" stroke-linecap="round"/>
<line x1="721.2" y1="925.5" x2="682.7" y2="672.4" stroke="#000" stroke-width="0.85" stroke-linecap="round"/>
<line x1="682.7" y1="672.4" x2="583.1" y2="760.6" stroke="#222" stroke-width="0.6" stroke-linecap="round"/>
<line x1="583.1" y1="760.6" x2="622.7" y2="1013.3" stroke="#111" stroke-width="0.65" stroke-linecap="round"/>
<line x1="622.7" y1="1013.3" x2="721.2" y2="925.5" stroke="#000" stroke-width="0.95" stroke-linecap="round"/>
<line x1="622.7" y1="1013.3" x2="868.3" y2="1009.2" stroke="#000" stroke-width="0.75" stroke-linecap="round"/>
<line x1="868.3" y1="1009.2" x2="967.3" y2="920.6" stroke="#000" stroke-width="0.7" stroke-linecap="round"/>
<line x1="745.3" y1="938.6" x2="911.5" y2="935.9" stroke="#000" stroke-width="0.75" stroke-linecap="round"/>
<line x1="911.5" y1="935.9" x2="844.8" y2="995.4" stroke="#000" stroke-width="0.95" stroke-linecap="round"/>
<line x1="844.8" y1="995.4" x2="678.1" y2="998.1" stroke="#000" stroke-width="0.85" stroke-linecap="round"/>
<line x1="678.1" y1="998.1" x2="745.3" y2="938.6" stroke="#111" stroke-width="0.65" stroke-linecap="round"/>
<line x1="840" y1="965.3" x2="871.2" y2="937.2" stroke="#777" stroke-width="0.5" stroke-linecap="round"/>
<line x1="840" y1="965.3" x2="844.8" y2="995.4" stroke="#777" stroke-width="0.5" stroke-linecap="round"/>
<line x1="713.6" y1="967.1" x2="840" y2="965.3" stroke="#999" stroke-width="0.5" stroke-linecap="round" stroke-dasharray="9 1.5"/>
</g>
<text transform="translate(477.7 1139.3) rotate(0.05) scale(1 1.0)" font-size="14.1">Instrukcja montażu / instalation instructions / Montageanleitung</text>
<text transform="translate(477.7 1158.5) rotate(0.05) scale(1 1.0)" font-size="14.1">Kinkiet / Wall lamp / Wandleuchte</text>
</svg>
</body>
</html>
